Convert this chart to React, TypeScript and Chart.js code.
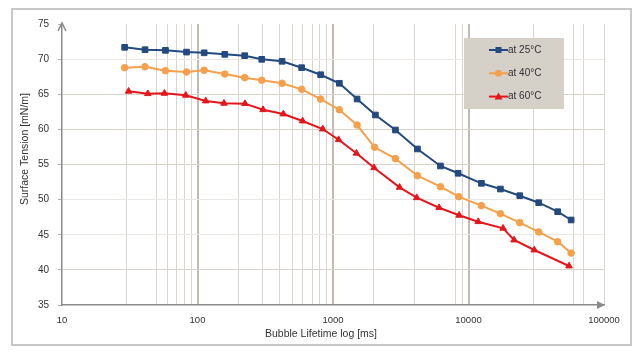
import React, { useEffect, useRef } from 'react';
import { Chart, registerables } from 'chart.js';
Chart.register(...registerables);

const seriesLabels = ['at 25°C', 'at 40°C', 'at 60°C'];
const seriesColors = ['#234a7e', '#f5a04c', '#e4161b'];

const time25 = [29, 41, 58, 83, 112, 159, 223, 298, 421, 587, 811, 1114, 1506, 2056, 2890, 4200, 6210, 8380, 12450, 17200, 23900, 33000, 45500, 57200];
const tension25 = [71.68, 71.34, 71.25, 71.0, 70.9, 70.68, 70.49, 69.97, 69.69, 68.78, 67.78, 66.56, 64.32, 62.05, 59.91, 57.21, 54.79, 53.75, 52.32, 51.51, 50.56, 49.56, 48.28, 47.1];

const time40 = [29, 41, 58, 83, 112, 159, 223, 298, 421, 587, 811, 1114, 1506, 2030, 2890, 4200, 6210, 8470, 12450, 17200, 23900, 33000, 45500, 57200];
const tension40 = [68.78, 68.92, 68.35, 68.17, 68.41, 67.88, 67.36, 66.99, 66.56, 65.7, 64.32, 62.8, 60.62, 57.45, 55.83, 53.41, 51.84, 50.42, 49.14, 48.0, 46.72, 45.4, 44.01, 42.4];

const time60 = [31, 43, 57, 82, 115, 157, 224, 305, 430, 597, 840, 1100, 1490, 2010, 3100, 4150, 6070, 8530, 11800, 18000, 21700, 30600, 55200];
const tension60 = [65.42, 65.08, 65.13, 64.85, 64.04, 63.71, 63.66, 62.8, 62.19, 61.19, 60.05, 58.53, 56.6, 54.54, 51.75, 50.27, 48.85, 47.77, 46.86, 45.92, 44.25, 42.83, 40.55];

const xGridValues = [10, 30, 50, 60, 70, 80, 90, 100, 200, 300, 400, 500, 600, 700, 800, 900, 1000, 2000, 4000, 8000, 9000, 10000, 30000, 60000, 70000, 100000];
const xMajor = [100, 1000, 10000];
const yFaint = [70, 50, 45];

const xTitle = 'Bubble Lifetime log [ms]';
const yTitle = 'Surface Tension [mN/m]';

const FONT = '"Liberation Sans", Arial, sans-serif';

const toPoints = (xs: number[], ys: number[]) => xs.map((x, i) => ({ x, y: ys[i] }));

function drawMarker(ctx: CanvasRenderingContext2D, style: string, x: number, y: number, color: string) {
  ctx.fillStyle = color;
  ctx.beginPath();
  if (style === 'rect') {
    ctx.rect(x - 3, y - 3, 6, 6);
  } else if (style === 'circle') {
    ctx.arc(x, y, 3.5, 0, Math.PI * 2);
  } else {
    ctx.moveTo(x, y - 4);
    ctx.lineTo(x + 4, y + 3);
    ctx.lineTo(x - 4, y + 3);
    ctx.closePath();
  }
  ctx.fill();
}

const decor = {
  id: 'decor',
  beforeDraw(chart: any) {
    const { ctx, width, height } = chart;
    ctx.save();
    ctx.fillStyle = '#ffffff';
    ctx.fillRect(0, 0, width, height);
    ctx.strokeStyle = '#c8c8c8';
    ctx.lineWidth = 2;
    ctx.strokeRect(12, 9, 619, 336);
    ctx.restore();
  },
  afterDraw(chart: any) {
    const { ctx, chartArea: a } = chart;
    ctx.save();
    // arrows
    ctx.strokeStyle = '#8a8a8a';
    ctx.fillStyle = '#8a8a8a';
    ctx.lineWidth = 1.5;
    ctx.beginPath();
    ctx.moveTo(a.left - 4, a.top + 7);
    ctx.lineTo(a.left, a.top - 1);
    ctx.lineTo(a.left + 4, a.top + 7);
    ctx.stroke();
    ctx.beginPath();
    ctx.moveTo(a.right - 7, a.bottom - 4);
    ctx.lineTo(a.right + 1, a.bottom);
    ctx.lineTo(a.right - 7, a.bottom + 4);
    ctx.closePath();
    ctx.fill();

    // titles
    ctx.fillStyle = '#333333';
    ctx.font = `10.5px ${FONT}`;
    ctx.textAlign = 'center';
    ctx.textBaseline = 'middle';
    ctx.fillText(xTitle, 321, 334);
    ctx.save();
    ctx.translate(25, 149);
    ctx.rotate(-Math.PI / 2);
    ctx.fillText(yTitle, 0, 0);
    ctx.restore();

    // legend
    const bx = 464, by = 38, bw = 100, bh = 71;
    ctx.fillStyle = '#d5d0c8';
    ctx.fillRect(bx, by, bw, bh);
    chart.data.datasets.forEach((ds: any, i: number) => {
      const y = by + 12 + i * 23.3;
      ctx.strokeStyle = ds.borderColor;
      ctx.lineWidth = 2;
      ctx.beginPath();
      ctx.moveTo(bx + 25, y);
      ctx.lineTo(bx + 44, y);
      ctx.stroke();
      drawMarker(ctx, ds.pointStyle, bx + 34.5, y, ds.borderColor);
      ctx.fillStyle = '#333333';
      ctx.font = `10px ${FONT}`;
      ctx.textAlign = 'left';
      ctx.textBaseline = 'middle';
      ctx.fillText(ds.label, bx + 44, y);
    });
    ctx.restore();
  },
};

export default function App() {
  const ref = useRef<HTMLCanvasElement | null>(null);
  useEffect(() => {
    if (!ref.current) return;
    const mk = (i: number, xs: number[], ys: number[], style: string, r: number) => ({
      label: seriesLabels[i],
      data: toPoints(xs, ys),
      borderColor: seriesColors[i],
      backgroundColor: seriesColors[i],
      pointBackgroundColor: seriesColors[i],
      pointBorderColor: seriesColors[i],
      pointStyle: style,
      pointRadius: r,
      pointBorderWidth: 1,
      borderWidth: 2,
      tension: 0,
    });
    const chart = new Chart(ref.current, {
      type: 'line',
      data: {
        datasets: [
          mk(0, time25, tension25, 'rect', 4),
          mk(1, time40, tension40, 'circle', 3.3),
          mk(2, time60, tension60, 'triangle', 3.8),
        ],
      },
      options: {
        responsive: false,
        animation: false,
        devicePixelRatio: 1,
        layout: { padding: { left: 10, right: 39, top: 24, bottom: 9 } },
        plugins: { legend: { display: false }, tooltip: { enabled: false } },
        scales: {
          x: {
            type: 'logarithmic',
            min: 10,
            max: 100000,
            afterBuildTicks: (scale: any) => {
              scale.ticks = xGridValues.map((v) => ({ value: v }));
            },
            afterFit: (scale: any) => {
              scale.height = 40;
            },
            ticks: {
              autoSkip: false,
              maxRotation: 0,
              padding: 10,
              color: '#333333',
              font: { family: FONT, size: 9.5 },
              callback: (v: any) => {
                const l = Math.log10(Number(v));
                return Math.abs(l - Math.round(l)) < 1e-9 ? String(v) : '';
              },
            },
            grid: {
              drawTicks: false,
              color: (c: any) => {
                const v = c.tick && c.tick.value;
                if (v === 10) return 'rgba(0,0,0,0)';
                return xMajor.includes(v) ? '#c2bcb3' : '#dad5cd';
              },
              lineWidth: (c: any) => {
                const v = c.tick && c.tick.value;
                return xMajor.includes(v) ? 2 : 1;
              },
            },
            border: { display: true, color: '#8a8a8a', width: 1.5 },
          },
          y: {
            type: 'linear',
            min: 35,
            max: 75,
            afterFit: (scale: any) => {
              scale.width = 52;
            },
            ticks: {
              stepSize: 5,
              padding: 9,
              color: '#333333',
              font: { family: FONT, size: 10 },
            },
            grid: {
              drawTicks: true,
              tickLength: 4,
              tickColor: '#b0b0b0',
              color: (c: any) => {
                const v = c.tick && c.tick.value;
                if (v === 75 || v === 35) return 'rgba(0,0,0,0)';
                return yFaint.includes(v) ? '#ebe8e3' : '#d8d3cb';
              },
              lineWidth: 1,
            },
            border: { display: true, color: '#8a8a8a', width: 1.5 },
          },
        },
      },
      plugins: [decor],
    } as any);
    return () => chart.destroy();
  }, []);
  return (
    <div style={{ position: 'fixed', left: 0, top: 0, width: 643, height: 354, background: '#fff' }}>
      <canvas ref={ref} width={643} height={354} style={{ display: 'block', width: 643, height: 354 }} />
    </div>
  );
}
